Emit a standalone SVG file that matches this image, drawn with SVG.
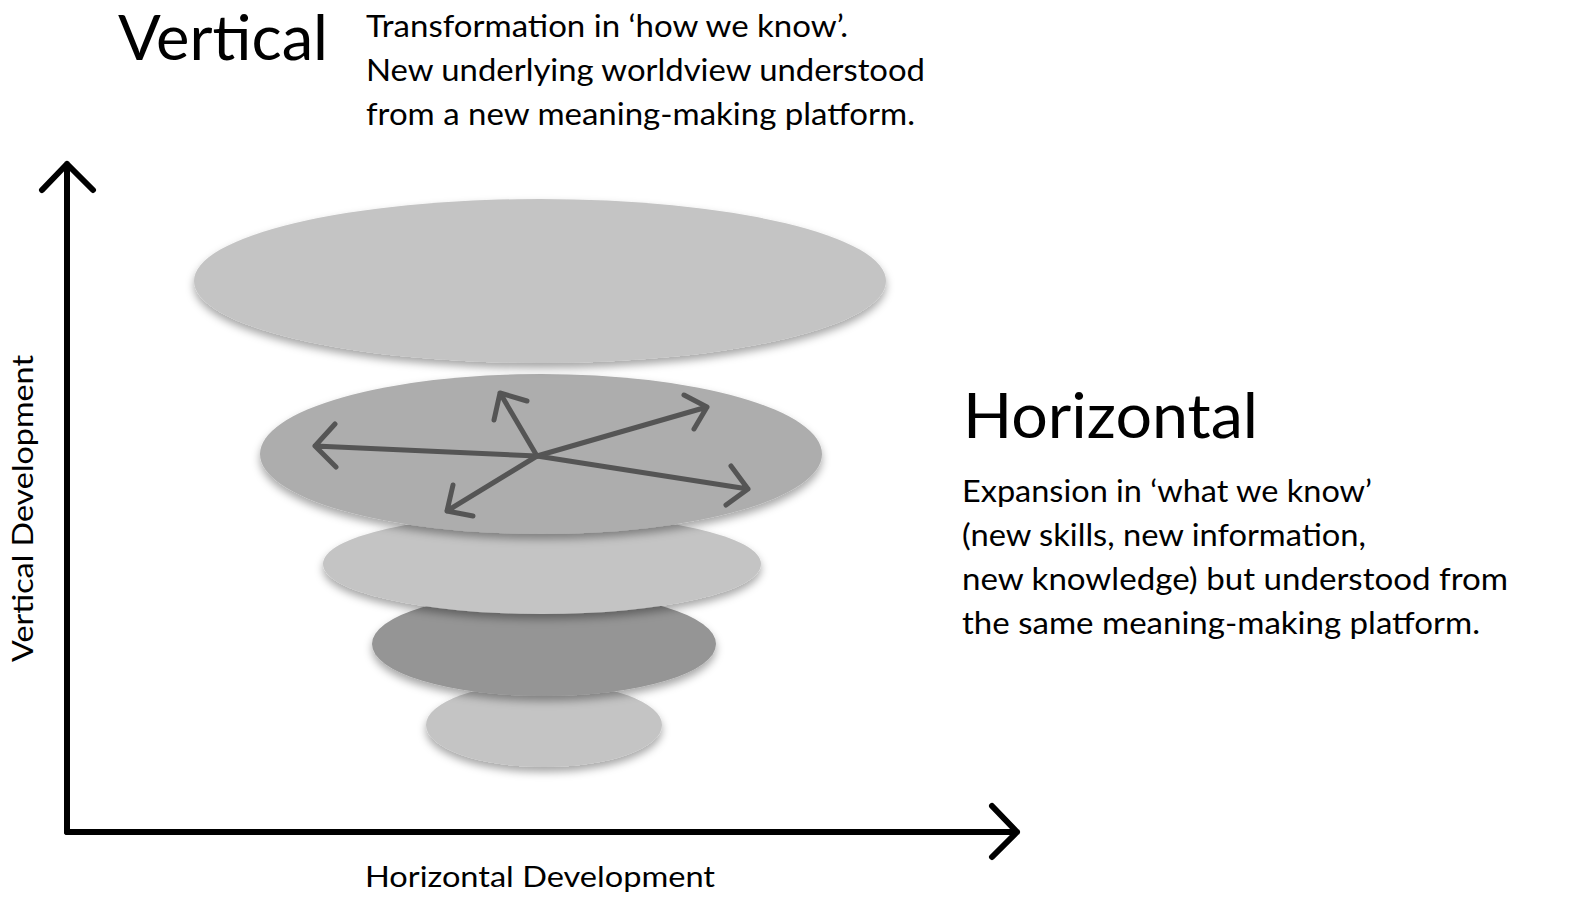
<svg xmlns="http://www.w3.org/2000/svg" width="1578" height="906" viewBox="0 0 1578 906">
<style>
.t{font-family:Lato,"Noto Sans","Liberation Sans",sans-serif;fill:#000}
.big{font-size:62px}
.body{font-size:30px}
.lab{font-size:29px}
.axis{stroke:#000;stroke-width:6;fill:none;stroke-linecap:round;stroke-linejoin:round}
.arr{stroke:#555;stroke-width:5;fill:none;stroke-linecap:round;stroke-linejoin:round}
.disc{filter:url(#sh)}
</style>
<defs>
<filter id="sh" x="-10%" y="-20%" width="120%" height="150%">
<feDropShadow dx="0" dy="5" stdDeviation="4" flood-color="#000" flood-opacity="0.35"/>
</filter>
</defs>
<rect width="1578" height="906" fill="#fff"/>
<g id="disc5"><ellipse class="disc" cx="544" cy="725" rx="118" ry="42" fill="#c4c4c4"/></g>
<g id="disc4"><ellipse class="disc" cx="544" cy="644" rx="172" ry="52" fill="#959595"/></g>
<g id="disc3"><ellipse class="disc" cx="542" cy="564" rx="219" ry="50" fill="#c4c4c4"/></g>
<g id="disc2"><ellipse class="disc" cx="541" cy="454" rx="281" ry="80" fill="#adadad"/></g>
<g id="disc1"><ellipse class="disc" cx="540" cy="281" rx="346" ry="82" fill="#c4c4c4"/></g>
<g id="connectors">
<g id="spread-arrows">
<path class="arr" d="M537,456 L315,446 M335,424 L315,446 L336,467"/>
<path class="arr" d="M537,456 L500,393 M494,420 L500,393 L527,401"/>
<path class="arr" d="M537,456 L707,407 M684,395 L707,407 L694,429"/>
<path class="arr" d="M537,456 L748,489 M731,466 L748,489 L726,505"/>
<path class="arr" d="M537,456 L447,511 M453,485 L447,511 L473,516"/>
</g>
<g id="axes">
<path class="axis" d="M67,832 L67,164 M42,190 L67,164 L93,190"/>
<path class="axis" d="M67,832 L1017,832 M992,806 L1017,832 L992,857"/>
</g>
</g>
<g id="vertical-title"><text class="t big" x="118" y="60" textLength="210" lengthAdjust="spacingAndGlyphs">Vertical</text></g>
<g id="vertical-desc">
<text class="t body" x="366" y="37" textLength="482" lengthAdjust="spacingAndGlyphs">Transformation in ‘how we know’.</text>
<text class="t body" x="366" y="81" textLength="559" lengthAdjust="spacingAndGlyphs">New underlying worldview understood</text>
<text class="t body" x="366" y="125" textLength="549" lengthAdjust="spacingAndGlyphs">from a new meaning-making platform.</text>
</g>
<g id="horizontal-title"><text class="t big" x="963" y="438" textLength="295" lengthAdjust="spacingAndGlyphs">Horizontal</text></g>
<g id="horizontal-desc">
<text class="t body" x="962" y="502" textLength="410" lengthAdjust="spacingAndGlyphs">Expansion in ‘what we know’</text>
<text class="t body" x="962" y="546" textLength="404" lengthAdjust="spacingAndGlyphs">(new skills, new information,</text>
<text class="t body" x="962" y="590" textLength="546" lengthAdjust="spacingAndGlyphs">new knowledge) but understood from</text>
<text class="t body" x="962" y="634" textLength="518" lengthAdjust="spacingAndGlyphs">the same meaning-making platform.</text>
</g>
<g id="x-label"><text class="t lab" x="365" y="887" textLength="350" lengthAdjust="spacingAndGlyphs">Horizontal Development</text></g>
<g id="y-label"><text class="t lab" transform="translate(33,662) rotate(-90)" x="0" y="0" textLength="307" lengthAdjust="spacingAndGlyphs">Vertical Development</text></g>
</svg>
